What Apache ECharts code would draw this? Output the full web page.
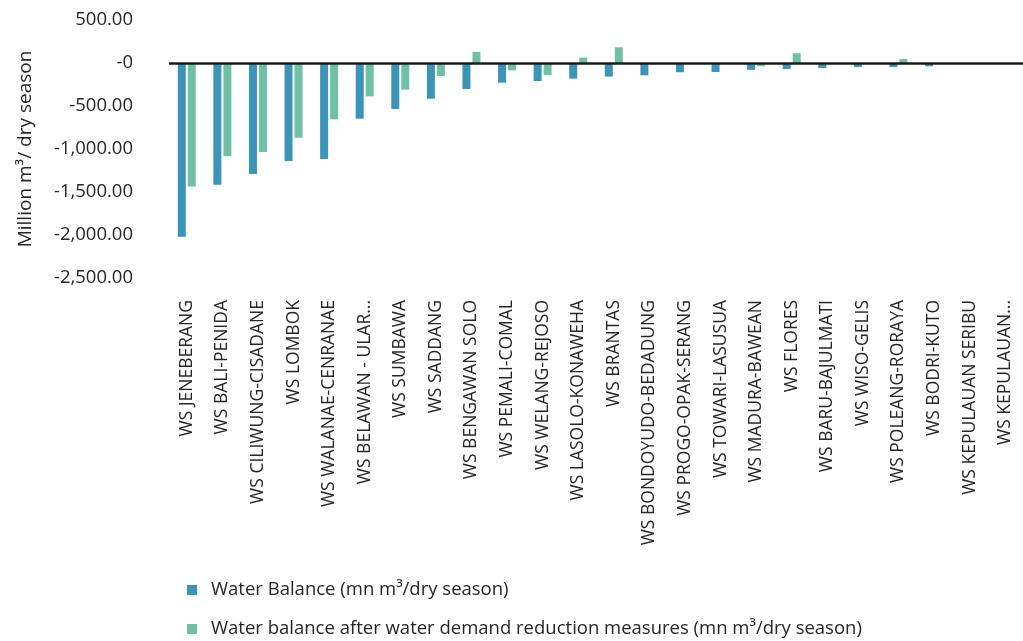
<!DOCTYPE html>
<html>
<head>
<meta charset="utf-8">
<script src="https://cdn.jsdelivr.net/npm/echarts@6/dist/echarts.min.js"></script>
<style>
  html, body { margin: 0; padding: 0; background: #fff; }
  #chart { width: 1023px; height: 641px; }
</style>
</head>
<body>
<div id="chart"></div>
<script>
// River basins (Wilayah Sungai), sorted by dry-season water balance
const categories = [
  'WS JENEBERANG', 'WS BALI-PENIDA', 'WS CILIWUNG-CISADANE', 'WS LOMBOK',
  'WS WALANAE-CENRANAE', 'WS BELAWAN - ULAR...', 'WS SUMBAWA', 'WS SADDANG',
  'WS BENGAWAN SOLO', 'WS PEMALI-COMAL', 'WS WELANG-REJOSO', 'WS LASOLO-KONAWEHA',
  'WS BRANTAS', 'WS BONDOYUDO-BEDADUNG', 'WS PROGO-OPAK-SERANG', 'WS TOWARI-LASUSUA',
  'WS MADURA-BAWEAN', 'WS FLORES', 'WS BARU-BAJULMATI', 'WS WISO-GELIS',
  'WS POLEANG-RORAYA', 'WS BODRI-KUTO', 'WS KEPULAUAN SERIBU', 'WS KEPULAUAN...'
];

// Water balance (mn m3 / dry season)
const waterBalance = [
  -2020, -1415, -1290, -1140,
  -1115, -648, -535, -415,
  -303, -228, -210, -182,
  -158, -143, -108, -105,
  -80, -70, -58, -47,
  -47, -38, -8, -3
];

// Water balance after water demand reduction measures (mn m3 / dry season)
const afterReduction = [
  -1435, -1085, -1036, -869,
  -655, -388, -310, -151,
  128, -85, -140, 63,
  183, -15, -4, -6,
  -38, 113, -2, -10,
  47, -3, -2, -1
];

// Value axis ticks
const yMin = -2500, yMax = 500, yStep = 500;

const seriesNames = [
  'Water Balance (mn m\u00B3/dry season)',
  'Water balance after water demand reduction measures (mn m\u00B3/dry season)'
];

function fmtTick(v) {
  if (v === 0) return '-0';
  const neg = v < 0;
  const s = Math.abs(v).toFixed(2);
  const [intPart, dec] = s.split('.');
  const withCommas = intPart.replace(/\B(?=(\d{3})+(?!\d))/g, ',');
  return (neg ? '-' : '') + withCommas + '.' + dec;
}

const font = 'Open Sans';
const textColor = '#262626';

const chart = echarts.init(document.getElementById('chart'), null, { renderer: 'canvas' });
chart.setOption({
  animation: false,
  backgroundColor: '#ffffff',
  textStyle: { fontFamily: font },
  grid: { left: 169, top: 20, width: 863, height: 258, containLabel: false },
  legend: {
    orient: 'vertical',
    left: 187,
    top: 580,
    padding: 0,
    itemWidth: 10,
    itemHeight: 10,
    itemGap: 19,
    icon: 'rect',
    textStyle: {
      fontFamily: font, fontSize: 18.5, lineHeight: 20,
      color: textColor, padding: [0, 0, 0, 9]
    },
    data: seriesNames
  },
  xAxis: {
    type: 'category',
    data: categories,
    axisLine: { show: false },
    axisTick: { show: false },
    axisLabel: {
      interval: 0,
      rotate: 90,
      margin: 22,
      fontFamily: font,
      fontSize: 17.5,
      color: textColor
    }
  },
  yAxis: {
    type: 'value',
    min: yMin,
    max: yMax,
    interval: yStep,
    name: 'Million m\u00B3/ dry season',
    nameLocation: 'middle',
    nameGap: 134,
    nameTextStyle: { fontFamily: font, fontSize: 19, color: textColor },
    axisLine: { show: false },
    axisTick: { show: false },
    splitLine: { show: false },
    axisLabel: {
      margin: 36,
      fontFamily: font,
      fontSize: 18.5,
      color: textColor,
      formatter: fmtTick
    }
  },
  series: [
    {
      name: seriesNames[0],
      type: 'bar',
      data: waterBalance,
      barWidth: 8,
      barGap: '25%',
      itemStyle: { color: '#3b95b9' },
      markLine: {
        silent: true,
        symbol: ['none', 'none'],
        label: { show: false },
        lineStyle: { color: '#1c1c1c', width: 2.5, type: 'solid' },
        data: [{ yAxis: 0 }]
      },
      z: 2
    },
    {
      name: seriesNames[1],
      type: 'bar',
      data: afterReduction,
      barWidth: 8,
      itemStyle: { color: '#70c0a7' },
      z: 2
    }
  ]
});
</script>
</body>
</html>
